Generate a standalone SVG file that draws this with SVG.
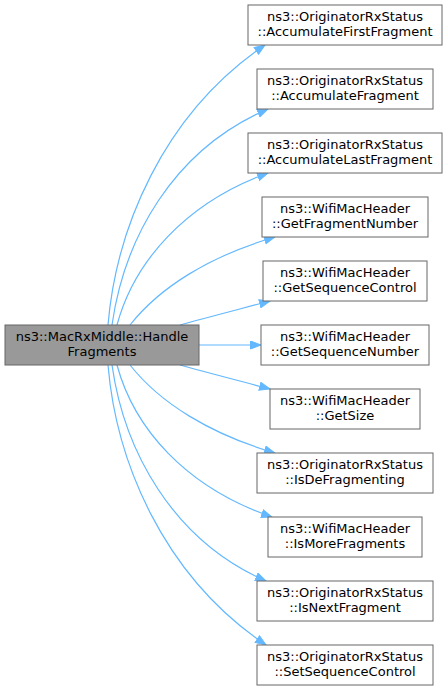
<svg xmlns="http://www.w3.org/2000/svg" width="448" height="691" viewBox="0 0 448 691">
<style>
.nd rect{fill:#ffffff;stroke:#666666;stroke-width:1}
#main rect{fill:#999999}
text{font-family:"DejaVu Sans","Liberation Sans",sans-serif;font-size:13px;fill:#000000;text-anchor:middle}
.ed path{fill:none;stroke:#63b8ff;stroke-width:1.2;marker-end:url(#ah)}
</style>
<defs>
<marker id="ah" markerUnits="userSpaceOnUse" markerWidth="12" markerHeight="10" refX="11" refY="4.5" orient="auto">
<path d="M0.5,0.5 L11,4.5 L0.5,8.5 z" fill="#63b8ff" stroke="#63b8ff"/>
</marker>
</defs>
<rect width="448" height="691" fill="#ffffff"/>
<g id="edges" class="ed">
<path d="M108,325 C116,230 162,115 265,45"/>
<path d="M112,325 C124,240 172,150 268,109"/>
<path d="M117,325 C134,262 185,203 268,173"/>
<path d="M130,325 C160,287 210,256 275,237"/>
<path d="M180,325 C205,318 240,309 270,301"/>
<path d="M199,345 L261,345"/>
<path d="M180,365 C205,372 240,381 270,389"/>
<path d="M130,365 C160,403 210,434 275,453"/>
<path d="M117,365 C134,428 185,487 272,517"/>
<path d="M112,365 C124,450 172,540 266,581"/>
<path d="M108,365 C116,460 162,575 266,645"/>
</g>
<g id="main" class="nd"><rect x="5" y="325" width="194" height="40"/><text x="102" y="341">ns3::MacRxMiddle::Handle</text><text x="102" y="356">Fragments</text></g>
<g id="n1" class="nd"><rect x="248" y="5" width="194" height="40"/><text x="345" y="21">ns3::OriginatorRxStatus</text><text x="345" y="36">::AccumulateFirstFragment</text></g>
<g id="n2" class="nd"><rect x="257" y="69" width="176" height="40"/><text x="345" y="85">ns3::OriginatorRxStatus</text><text x="345" y="100">::AccumulateFragment</text></g>
<g id="n3" class="nd"><rect x="248" y="133" width="194" height="40"/><text x="345" y="149">ns3::OriginatorRxStatus</text><text x="345" y="164">::AccumulateLastFragment</text></g>
<g id="n4" class="nd"><rect x="262" y="197" width="166" height="40"/><text x="345" y="213">ns3::WifiMacHeader</text><text x="345" y="228">::GetFragmentNumber</text></g>
<g id="n5" class="nd"><rect x="263" y="261" width="164" height="40"/><text x="345" y="277">ns3::WifiMacHeader</text><text x="345" y="292">::GetSequenceControl</text></g>
<g id="n6" class="nd"><rect x="261" y="325" width="168" height="40"/><text x="345" y="341">ns3::WifiMacHeader</text><text x="345" y="356">::GetSequenceNumber</text></g>
<g id="n7" class="nd"><rect x="270" y="389" width="150" height="40"/><text x="345" y="405">ns3::WifiMacHeader</text><text x="345" y="420">::GetSize</text></g>
<g id="n8" class="nd"><rect x="257" y="453" width="176" height="40"/><text x="345" y="469">ns3::OriginatorRxStatus</text><text x="345" y="484">::IsDeFragmenting</text></g>
<g id="n9" class="nd"><rect x="268" y="517" width="154" height="40"/><text x="345" y="533">ns3::WifiMacHeader</text><text x="345" y="548">::IsMoreFragments</text></g>
<g id="n10" class="nd"><rect x="257" y="581" width="176" height="40"/><text x="345" y="597">ns3::OriginatorRxStatus</text><text x="345" y="612">::IsNextFragment</text></g>
<g id="n11" class="nd"><rect x="257" y="645" width="176" height="40"/><text x="345" y="661">ns3::OriginatorRxStatus</text><text x="345" y="676">::SetSequenceControl</text></g>
</svg>
